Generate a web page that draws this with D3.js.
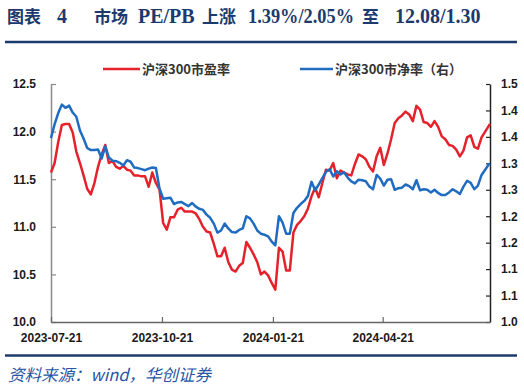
<!DOCTYPE html>
<html><head><meta charset="utf-8">
<script src="https://cdn.jsdelivr.net/npm/d3@7/dist/d3.min.js"></script>
<style>body{margin:0;background:#fff}svg{display:block}</style>
</head><body>
<svg id="chart" width="524" height="390"></svg>
<script>
const dates = ["2023-07-21","2023-07-24","2023-07-27","2023-07-30","2023-08-02","2023-08-05","2023-08-08","2023-08-11","2023-08-14","2023-08-17","2023-08-20","2023-08-23","2023-08-26","2023-08-29","2023-09-01","2023-09-04","2023-09-07","2023-09-10","2023-09-13","2023-09-16","2023-09-19","2023-09-22","2023-09-25","2023-09-28","2023-10-01","2023-10-04","2023-10-07","2023-10-10","2023-10-13","2023-10-16","2023-10-19","2023-10-22","2023-10-25","2023-10-28","2023-10-31","2023-11-03","2023-11-06","2023-11-09","2023-11-12","2023-11-15","2023-11-18","2023-11-21","2023-11-24","2023-11-27","2023-11-30","2023-12-03","2023-12-06","2023-12-09","2023-12-12","2023-12-15","2023-12-18","2023-12-21","2023-12-24","2023-12-27","2023-12-30","2024-01-02","2024-01-05","2024-01-08","2024-01-11","2024-01-14","2024-01-17","2024-01-20","2024-01-23","2024-01-26","2024-01-29","2024-02-01","2024-02-04","2024-02-07","2024-02-10","2024-02-13","2024-02-16","2024-02-19","2024-02-22","2024-02-25","2024-02-28","2024-03-02","2024-03-05","2024-03-08","2024-03-11","2024-03-14","2024-03-17","2024-03-20","2024-03-23","2024-03-26","2024-03-29","2024-04-01","2024-04-04","2024-04-07","2024-04-10","2024-04-13","2024-04-16","2024-04-19","2024-04-22","2024-04-25","2024-04-28","2024-05-01","2024-05-04","2024-05-07","2024-05-10","2024-05-13","2024-05-16","2024-05-19","2024-05-22","2024-05-25","2024-05-28","2024-05-31","2024-06-03","2024-06-06","2024-06-09","2024-06-12","2024-06-15","2024-06-18","2024-06-21","2024-06-24","2024-06-27","2024-06-30","2024-07-03","2024-07-06","2024-07-09","2024-07-12","2024-07-15","2024-07-18","2024-07-19"];

const peValues = [11.57,11.67,11.89,12.07,12.08,12.08,11.99,11.79,11.67,11.54,
11.40,11.34,11.46,11.63,11.76,11.86,11.67,11.69,11.63,11.61,
11.64,11.60,11.59,11.54,11.54,11.53,11.53,11.42,11.57,11.46,
11.39,11.04,10.97,11.10,11.10,11.18,11.20,11.16,11.16,11.16,
11.14,11.08,11.00,10.95,10.94,10.82,10.69,10.69,10.78,10.63,
10.55,10.53,10.59,10.62,10.84,10.78,10.71,10.63,10.50,10.53,
10.49,10.41,10.34,10.78,10.74,10.54,10.54,10.94,11.02,11.06,
11.11,11.19,11.32,11.41,11.31,11.46,11.60,11.59,11.67,11.51,
11.59,11.57,11.55,11.54,11.66,11.76,11.74,11.71,11.63,11.58,
11.74,11.83,11.65,11.77,11.92,12.09,12.14,12.17,12.21,12.18,
12.11,12.27,12.23,12.10,12.09,12.05,12.11,12.05,11.95,11.92,
11.86,11.85,11.81,11.74,11.80,11.94,11.96,11.84,11.82,11.94,
12.00,12.06,12.08];

const pbValues = [1.348,1.374,1.395,1.411,1.405,1.409,1.396,1.388,1.362,1.347,
1.329,1.325,1.325,1.326,1.309,1.332,1.311,1.305,1.304,1.301,
1.296,1.306,1.303,1.292,1.291,1.289,1.287,1.290,1.292,1.291,
1.252,1.233,1.234,1.235,1.223,1.226,1.227,1.223,1.219,1.225,
1.218,1.214,1.212,1.203,1.197,1.186,1.169,1.173,1.186,1.177,
1.170,1.169,1.174,1.177,1.200,1.196,1.186,1.173,1.167,1.165,
1.162,1.152,1.145,1.200,1.188,1.167,1.167,1.206,1.216,1.223,
1.229,1.238,1.265,1.249,1.260,1.272,1.284,1.289,1.275,1.285,
1.279,1.283,1.273,1.266,1.262,1.269,1.268,1.266,1.256,1.251,
1.278,1.271,1.258,1.269,1.270,1.250,1.253,1.254,1.260,1.257,
1.251,1.268,1.249,1.251,1.250,1.245,1.250,1.244,1.240,1.240,
1.245,1.251,1.247,1.242,1.256,1.267,1.263,1.251,1.258,1.278,
1.288,1.298,1.300];

const seriesNames = ["沪深300市盈率", "沪深300市净率（右）"];
const leftTicks = [10.0, 10.5, 11.0, 11.5, 12.0, 12.5];
const leftTickLabels = ["10.0", "10.5", "11.0", "11.5", "12.0", "12.5"];
const rightTicks = [1.00, 1.05, 1.10, 1.15, 1.20, 1.25, 1.30, 1.35, 1.40, 1.45];
const rightTickLabels = ["1.0", "1.1", "1.1", "1.2", "1.2", "1.3", "1.3", "1.4", "1.4", "1.5"];
const xTickDates = ["2023-07-21", "2023-10-21", "2024-01-21", "2024-04-21"];
const xDomain = ["2023-07-21", "2024-07-19"];
const titleParts = [
  {t: "图表", x: 7, cjk: true},
  {t: "4", x: 57, cjk: false},
  {t: "市场", x: 94, cjk: true},
  {t: "PE/PB", x: 138, cjk: false},
  {t: "上涨", x: 202, cjk: true},
  {t: "1.39%/2.05%", x: 248, cjk: false, len: 106},
  {t: "至", x: 362, cjk: true},
  {t: "12.08/1.30", x: 395, cjk: false}
];
const sourceText = "资料来源：wind，华创证券";

const parse = d3.timeParse("%Y-%m-%d");
const data = dates.map((d, i) => ({date: parse(d), pe: peValues[i], pb: pbValues[i]}));

const svg = d3.select("#chart");
const M = {left: 51, right: 490, top: 84, bottom: 322};
const RED = "#e5212b", BLUE = "#1f6cc1", NAVY = "#1d3a6d";

const x = d3.scaleTime().domain(xDomain.map(parse)).range([M.left, M.right]);
const yL = d3.scaleLinear().domain([10, 12.5]).range([M.bottom, M.top]);
const yR = d3.scaleLinear().domain([1.0, 1.45]).range([M.bottom, M.top]);

// Title
titleParts.forEach(p => {
  const t = svg.append("text").attr("x", p.x).attr("y", 23).attr("fill", NAVY)
    .attr("font-weight", "bold").text(p.t)
    .attr("font-family", p.cjk ? "'Noto Sans CJK SC', sans-serif" : "'Liberation Serif', 'Times New Roman', serif")
    .attr("font-size", p.cjk ? 17 : 20);
  if (p.len) t.attr("textLength", p.len).attr("lengthAdjust", "spacingAndGlyphs");
});
svg.append("line").attr("x1", 5).attr("x2", 517).attr("y1", 42).attr("y2", 42)
  .attr("stroke", NAVY).attr("stroke-width", 2.5);
svg.append("line").attr("x1", 5).attr("x2", 517).attr("y1", 355.5).attr("y2", 355.5)
  .attr("stroke", NAVY).attr("stroke-width", 2.5);

// Source
svg.append("text").attr("x", 8).attr("y", 381).text(sourceText)
  .attr("font-family", "'Noto Sans CJK SC', sans-serif").attr("font-style", "italic")
  .attr("font-size", 16.5).attr("fill", "#2a55a5");

const tickFont = "'Liberation Sans', Arial, sans-serif";

// Left axis
const gL = svg.append("g").attr("transform", `translate(${M.left},0)`)
  .call(d3.axisLeft(yL).tickValues(leftTicks).tickFormat((d, i) => leftTickLabels[i])
    .tickSizeInner(-5).tickSizeOuter(0).tickPadding(15));
gL.select(".domain").attr("stroke", "#8a8a8a").attr("stroke-width", 1.5);
gL.selectAll(".tick line").attr("stroke", "#8a8a8a").attr("stroke-width", 1.2);

// Right axis
const gR = svg.append("g").attr("transform", `translate(${M.right},0)`)
  .call(d3.axisRight(yR).tickValues(rightTicks).tickFormat((d, i) => rightTickLabels[i])
    .tickSizeInner(-4).tickSizeOuter(0).tickPadding(11));
gR.select(".domain").attr("stroke", "#222").attr("stroke-width", 1.5);
gR.selectAll(".tick line").attr("stroke", "#222").attr("stroke-width", 1.2);

// Bottom axis
const gB = svg.append("g").attr("transform", `translate(0,${M.bottom})`)
  .call(d3.axisBottom(x).tickValues(xTickDates.map(parse)).tickFormat(d3.timeFormat("%Y-%m-%d"))
    .tickSizeInner(-5).tickSizeOuter(0).tickPadding(11));
gB.select(".domain").attr("stroke", "#666").attr("stroke-width", 1.5);
gB.selectAll(".tick line").attr("stroke", "#666").attr("stroke-width", 1.2);

[gL, gR, gB].forEach(g => g.selectAll(".tick text")
  .attr("font-family", tickFont).attr("font-size", 12).attr("font-weight", "bold").attr("fill", "#1a1a1a"));

// Lines
const linePE = d3.line().x(d => x(d.date)).y(d => yL(d.pe));
const linePB = d3.line().x(d => x(d.date)).y(d => yR(d.pb));
svg.append("path").datum(data).attr("d", linePE).attr("fill", "none")
  .attr("stroke", RED).attr("stroke-width", 2.5).attr("stroke-linejoin", "round");
svg.append("path").datum(data).attr("d", linePB).attr("fill", "none")
  .attr("stroke", BLUE).attr("stroke-width", 2.5).attr("stroke-linejoin", "round");

// Legend
const legend = [
  {name: seriesNames[0], color: RED, x1: 103, x2: 140, tx: 142},
  {name: seriesNames[1], color: BLUE, x1: 300, x2: 333, tx: 335}
];
legend.forEach(l => {
  svg.append("line").attr("x1", l.x1).attr("x2", l.x2).attr("y1", 69).attr("y2", 69)
    .attr("stroke", l.color).attr("stroke-width", 2.5);
  svg.append("text").attr("x", l.tx).attr("y", 69).attr("dy", "0.36em").text(l.name)
    .attr("font-family", "'Noto Sans CJK SC', sans-serif").attr("font-size", 13)
    .attr("font-weight", "bold").attr("fill", "#333");
});
</script>
</body></html>
